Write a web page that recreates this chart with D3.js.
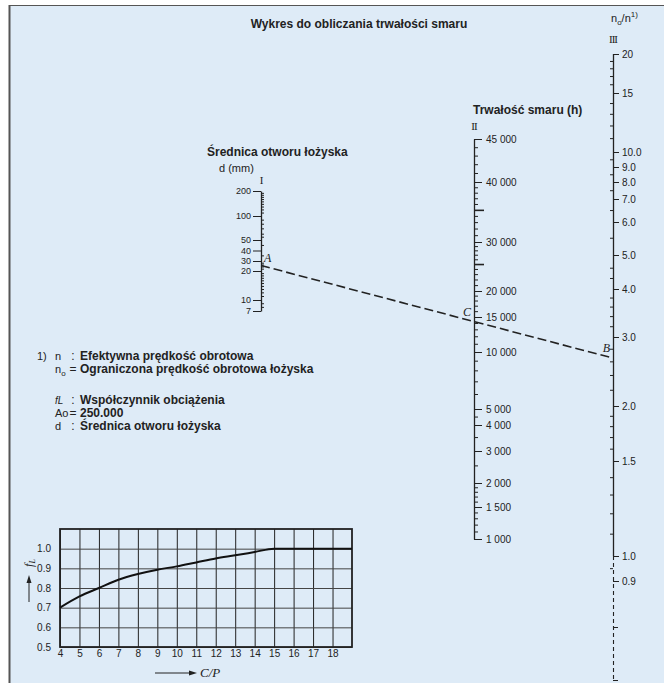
<!DOCTYPE html>
<html>
<head>
<meta charset="utf-8">
<script src="https://cdn.jsdelivr.net/npm/d3@7"></script>
<style>
  body { margin: 0; background: #fff; }
  svg text { font-family: "Liberation Sans", Arial, sans-serif; fill: #222; }
  .tick text { font-family: "Liberation Sans", Arial, sans-serif; font-size: 10px; fill: #222; }
  .dscale .tick text { font-size: 9px; }
  .serif { font-family: "Liberation Serif", "DejaVu Serif", serif !important; font-style: italic; }
  .roman { font-family: "Liberation Serif", serif !important; letter-spacing: -1px; }
</style>
</head>
<body>
<div id="main"></div>
<script>
// scale I : bore diameter d (mm)
var dTicks = [200, 100, 50, 40, 30, 20, 10, 7];
var dMinor = [190, 180, 170, 160, 150, 140, 130, 120, 110, 90, 80, 70, 60, 55, 45, 35, 28, 26, 24, 22, 19, 18, 17, 16, 15, 14, 13, 12, 11, 9, 8];

// scale II : grease life (h)
var hTicks = [45000, 40000, 30000, 20000, 15000, 10000, 5000, 4000, 3000, 2000, 1500, 1000];
var hMid = [35000, 25000];
var hMinor = [44000, 43000, 42000, 41000, 39000, 38000, 37000, 36000, 34000, 33000, 32000, 31000,
              29000, 28000, 27000, 26000, 24000, 23000, 22000, 21000, 19000, 18000, 17000, 16000,
              14000, 13000, 12000, 11000, 9000, 8000, 7000, 6000, 4500, 3500, 2500,
              1900, 1800, 1700, 1600, 1400, 1300, 1200, 1100];

// scale III : no/n
var nTicks = [20, 15, 10, 9, 8, 7, 6, 5, 4, 3, 2, 1.5, 1.0, 0.9];
var nMinor = [19, 18, 17, 16, 14, 13, 12, 11, 9.5, 8.5, 7.5, 6.5, 5.5, 4.6, 4.3,
              3.8, 3.6, 3.4, 3.2, 2.8, 2.6, 2.4, 2.2, 1.9, 1.8, 1.7, 1.6, 1.4, 1.3, 1.2, 1.1, 0.95];
var nEnd = [0.8, 0.7];

// example reading A - C - B
var pointA = 25;     // d (mm)
var pointB = 2.65;   // no/n

// fL versus C/P
var cpValues = [4, 5, 6, 7, 8, 9, 10, 11, 12, 13, 14, 15, 16, 17, 18, 19];
var fLValues = [0.70, 0.757, 0.80, 0.842, 0.871, 0.893, 0.91, 0.93, 0.95, 0.966, 0.983, 1.0, 1.0, 1.0, 1.0, 1.0];
var cpTicks = [4, 5, 6, 7, 8, 9, 10, 11, 12, 13, 14, 15, 16, 17, 18];
var fTicks = [0.5, 0.6, 0.7, 0.8, 0.9, 1.0];

// legend
var legendSymbols = ["n", "n", "fL", "Ao", "d"];
var legendSeps = [":", "=", ":", "=", ":"];
var legendTexts = ["Efektywna prędkość obrotowa", "Ograniczona prędkość obrotowa łożyska",
                   "Współczynnik obciążenia", "250.000", "Średnica otworu łożyska"];

var svg = d3.select("#main").append("svg")
    .attr("width", 664)
    .attr("height", 683);

// panel
svg.append("rect").attr("x", 9).attr("y", 5).attr("width", 655).attr("height", 678).attr("fill", "#deebf7");
svg.append("line").attr("x1", 9).attr("x2", 664).attr("y1", 5.5).attr("y2", 5.5).attr("stroke", "#555");
svg.append("line").attr("x1", 9.5).attr("x2", 9.5).attr("y1", 5).attr("y2", 683).attr("stroke", "#555").attr("stroke-width", 2);

svg.append("text")
    .attr("x", 359).attr("y", 28)
    .attr("text-anchor", "middle")
    .attr("font-weight", "bold").attr("font-size", 12)
    .text("Wykres do obliczania trwałości smaru");

var xD = 261, xH = 474, xN = 613;

var yD = d3.scaleLog()
    .domain([7, 10, 20, 30, 40, 50, 100, 200])
    .range([311, 300, 271, 261, 250.5, 240, 216, 191]);
var yH = d3.scaleLog()
    .domain([1000, 1500, 2000, 3000, 4000, 5000, 10000, 15000, 20000, 30000, 40000, 45000])
    .range([539, 507, 483, 451, 425, 409, 352, 317, 291, 242, 182, 139]);
var yN = d3.scaleLog()
    .domain([0.7, 0.8, 0.9, 1, 1.5, 2, 3, 4, 5, 6, 7, 8, 9, 10, 15, 20])
    .range([680, 627, 581, 556, 461, 406, 337, 289, 255, 222, 199, 182, 167, 152, 93, 54]);

function styleAxis(g, w) {
    g.select(".domain").attr("stroke", "#222").attr("stroke-width", w || 1.3);
    g.selectAll(".tick line").attr("stroke", "#222");
    g.attr("font-family", null).attr("font-size", null);
}
function minorTicks(g) {
    g.select(".domain").remove();
    g.selectAll("line").attr("stroke", "#222");
}

// ---- scale I
var gD = svg.append("g").attr("class", "dscale").attr("transform", "translate(" + xD + ",0)");
gD.call(d3.axisLeft(yD).tickValues(dTicks).tickSize(8).tickSizeOuter(0).tickPadding(2).tickFormat(d3.format("d")))
    .call(styleAxis);
gD.append("g")
    .call(d3.axisRight(yD).tickValues(dMinor).tickSize(3).tickFormat(""))
    .call(minorTicks);

svg.append("text").attr("x", 207).attr("y", 156).attr("font-weight", "bold").attr("font-size", 12).text("Średnica otworu łożyska");
svg.append("text").attr("x", 219).attr("y", 172).attr("font-size", 11).text("d (mm)");
svg.append("text").attr("class", "roman").attr("x", xD).attr("y", 184).attr("text-anchor", "middle").attr("font-size", 11).text("I");

// ---- scale II
var gH = svg.append("g").attr("transform", "translate(" + xH + ",0)");
gH.call(d3.axisRight(yH).tickValues(hTicks).tickSize(8).tickSizeOuter(0).tickPadding(4)
        .tickFormat(function(d) { return d3.format(",")(d).replace(",", " "); }))
    .call(styleAxis);
gH.append("g")
    .call(d3.axisRight(yH).tickValues(hMinor).tickSize(4).tickFormat(""))
    .call(minorTicks);
gH.append("g")
    .call(d3.axisRight(yH).tickValues(hMid).tickSize(10).tickFormat(""))
    .call(minorTicks)
    .selectAll("line").attr("stroke-width", 1.6);

svg.append("text").attr("x", 473).attr("y", 114).attr("font-weight", "bold").attr("font-size", 12).text("Trwałość smaru (h)");
svg.append("text").attr("class", "roman").attr("x", xH).attr("y", 130).attr("text-anchor", "middle").attr("font-size", 11).text("II");

// ---- scale III
var gN = svg.append("g").attr("transform", "translate(" + xN + ",0)");
gN.call(d3.axisRight(yN).tickValues(nTicks).tickSize(6).tickPadding(3)
        .tickFormat(function(d) { return d >= 15 ? String(d) : d.toFixed(1); }))
    .call(styleAxis);
gN.select(".domain").remove();
gN.append("g")
    .call(d3.axisLeft(yN).tickValues(nMinor).tickSize(3).tickFormat(""))
    .call(minorTicks);
gN.append("g")
    .call(d3.axisRight(yN).tickValues(nEnd).tickSize(5).tickFormat(""))
    .call(minorTicks);
gN.append("line").attr("x1", 0.5).attr("x2", 0.5).attr("y1", yN(20)).attr("y2", yN(1))
    .attr("stroke", "#222").attr("stroke-width", 1.3);
gN.append("line").attr("x1", 0.5).attr("x2", 0.5).attr("y1", yN(1)).attr("y2", yN(0.7))
    .attr("stroke", "#222").attr("stroke-width", 1.1).attr("stroke-dasharray", "4,3");

var nTitle = svg.append("text").attr("x", 611).attr("y", 22).attr("font-size", 11);
nTitle.append("tspan").text("n");
nTitle.append("tspan").attr("font-size", 8).attr("dy", 3).text("o");
nTitle.append("tspan").attr("dy", -3).text("/n");
nTitle.append("tspan").attr("font-size", 8).attr("dy", -5).text("1)");
svg.append("text").attr("class", "roman").attr("x", xN).attr("y", 43).attr("text-anchor", "middle").attr("font-size", 11).text("III");

// ---- example line A-C-B
var ax = xD, ay = yD(pointA), bx = xN, by = yN(pointB);
svg.append("line")
    .attr("x1", ax).attr("y1", ay).attr("x2", bx).attr("y2", by)
    .attr("stroke", "#222").attr("stroke-width", 1.6).attr("stroke-dasharray", "9,4");
var cy = ay + (by - ay) * (xH - ax) / (bx - ax);
svg.append("text").attr("class", "serif").attr("x", ax + 3).attr("y", ay - 3).attr("font-size", 12).text("A");
svg.append("text").attr("class", "serif").attr("x", xH - 3).attr("y", cy - 6).attr("text-anchor", "end").attr("font-size", 12).text("C");
svg.append("text").attr("class", "serif").attr("x", xN - 3).attr("y", by - 6).attr("text-anchor", "end").attr("font-size", 12).text("B");

// ---- legend
svg.append("text").attr("x", 37).attr("y", 360).attr("font-size", 11).text("1)");
legendTexts.forEach(function(t, i) {
    var y = 360 + i * 13 + (i >= 2 ? 18 : 0);
    var s = svg.append("text").attr("x", 55).attr("y", y).attr("font-size", 11);
    if (i === 1) {
        s.append("tspan").text("n");
        s.append("tspan").attr("font-size", 8).attr("dy", 3).text("o");
    } else if (i === 2) {
        s.attr("font-style", "italic").attr("font-size", 10).text(legendSymbols[i]);
    } else {
        s.text(legendSymbols[i]);
    }
    svg.append("text").attr("x", 73).attr("y", y).attr("text-anchor", "middle").attr("font-size", 12).text(legendSeps[i]);
    svg.append("text").attr("x", 80).attr("y", y).attr("font-weight", "bold").attr("font-size", 12).text(t);
});

// ---- small chart fL vs C/P
var x = d3.scaleLinear().domain([4, 19]).range([60, 352]);
var y = d3.scaleLinear().domain([0.5, 1.1]).range([647, 529]);

var gc = svg.append("g");
gc.append("g")
    .attr("transform", "translate(0,647)")
    .call(d3.axisBottom(x).tickValues(cpTicks).tickSize(-(647 - 529)).tickPadding(3))
    .call(function(g) {
        g.select(".domain").remove();
        g.selectAll(".tick line").attr("stroke", "#222").attr("stroke-width", 1);
        g.attr("font-family", null).attr("font-size", null);
    });
gc.append("g")
    .attr("transform", "translate(60,0)")
    .call(d3.axisLeft(y).tickValues(fTicks).tickSize(-(352 - 60)).tickPadding(9).tickFormat(d3.format(".1f")))
    .call(function(g) {
        g.select(".domain").remove();
        g.selectAll(".tick line").attr("stroke", "#444").attr("stroke-width", 1);
        g.attr("font-family", null).attr("font-size", null);
    });
gc.append("rect")
    .attr("x", 60).attr("y", 529).attr("width", 292).attr("height", 118)
    .attr("fill", "none").attr("stroke", "#222").attr("stroke-width", 1.8);

var line = d3.line()
    .x(function(d, i) { return x(cpValues[i]); })
    .y(function(d) { return y(d); })
    .curve(d3.curveMonotoneX);
gc.append("path")
    .datum(fLValues)
    .attr("fill", "none")
    .attr("stroke", "#111")
    .attr("stroke-width", 2)
    .attr("d", line);

// axis titles with arrows
gc.append("line").attr("x1", 29).attr("x2", 29).attr("y1", 602).attr("y2", 582).attr("stroke", "#222").attr("stroke-width", 1);
gc.append("path").attr("d", "M29,575 L26.5,583 L31.5,583 Z").attr("fill", "#222");
var fl = gc.append("text").attr("class", "serif")
    .attr("transform", "translate(33,563) rotate(-90)")
    .attr("text-anchor", "middle").attr("font-size", 12);
fl.append("tspan").text("f");
fl.append("tspan").attr("font-size", 8).attr("dy", 2).text("L");

gc.append("line").attr("x1", 155).attr("x2", 190).attr("y1", 673).attr("y2", 673).attr("stroke", "#222").attr("stroke-width", 1);
gc.append("path").attr("d", "M197,673 L189,670.5 L189,675.5 Z").attr("fill", "#222");
gc.append("text").attr("class", "serif").attr("x", 200).attr("y", 677).attr("font-size", 13).text("C/P");
</script>
</body>
</html>
